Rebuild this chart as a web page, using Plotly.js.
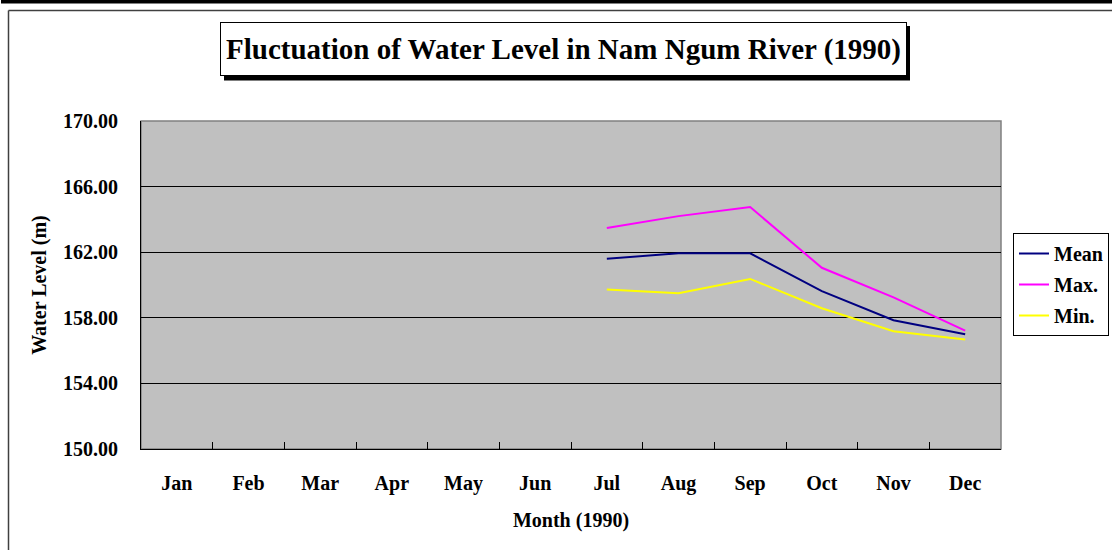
<!DOCTYPE html>
<html>
<head>
<meta charset="utf-8">
<script src="https://cdn.plot.ly/plotly-3.0.1.min.js"></script>
<style>
html,body{margin:0;padding:0;background:#fff;}
#chart{width:1112px;height:550px;}
</style>
</head>
<body>
<div id="chart"></div>
<script>
var months = ["Jan","Feb","Mar","Apr","May","Jun","Jul","Aug","Sep","Oct","Nov","Dec"];
var meanLevel = [null,null,null,null,null,null,161.60,161.93,161.93,159.63,157.85,157.00];
var maxLevel  = [null,null,null,null,null,null,163.47,164.20,164.75,161.05,159.25,157.22];
var minLevel  = [null,null,null,null,null,null,159.73,159.50,160.37,158.58,157.18,156.68];
var seriesNames = ["Mean","Max.","Min."];
var chartTitle = "Fluctuation of Water Level in Nam Ngum River (1990)";
var xTitle = "Month (1990)";
var yTitle = "Water Level (m)";

var W = 1112, H = 550;
var L = 141, R = 1001, T = 121, B = 449;
function px(x){ return (x - L) / (R - L); }
function py(y){ return (B - y) / (B - T); }

var FONT = "Liberation Serif, Times New Roman, serif";

var colors = ["#000080","#ff00ff","#ffff00"];
var data = [meanLevel, maxLevel, minLevel].map(function(v, i){
  return {
    x: months, y: v, type: "scatter", mode: "lines",
    name: seriesNames[i], legendgroup: "g" + i,
    line: {color: colors[i], width: 2},
    connectgaps: false, hoverinfo: "x+y+name"
  };
});

var layout = {
  width: W, height: H,
  margin: {l: L, r: W - R, t: T, b: H - B, autoexpand: false, pad: 0},
  paper_bgcolor: "#ffffff",
  plot_bgcolor: "#c0c0c0",
  font: {family: FONT, size: 20, color: "#000", weight: 700},
  showlegend: true,
  legend: {
    x: px(1013), y: py(233), xanchor: "left", yanchor: "top",
    bgcolor: "#ffffff", bordercolor: "#000", borderwidth: 1,
    font: {family: FONT, size: 20, color: "#000", weight: 700},
    tracegroupgap: 2, itemwidth: 30, entrywidth: 112, entrywidthmode: "pixels"
  },
  xaxis: {
    type: "category", categoryorder: "array", categoryarray: months,
    range: [-0.5, 11.5], fixedrange: true,
    showgrid: false, zeroline: false,
    showline: true, linecolor: "#000", linewidth: 1,
    ticks: "inside", tickson: "boundaries", ticklen: 7, tickcolor: "#000", tickwidth: 1,
    ticklabelstandoff: 16,
    tickfont: {family: FONT, size: 20, color: "#000", weight: 700},
    title: {text: xTitle, standoff: 18, font: {family: FONT, size: 20, color: "#000", weight: 700}},
    automargin: false
  },
  yaxis: {
    range: [150, 170], dtick: 4, tick0: 150, tickformat: ".2f", fixedrange: true,
    showgrid: true, gridcolor: "#000", gridwidth: 1, zeroline: false,
    showline: true, linecolor: "#000", linewidth: 1,
    ticks: "", ticklabelstandoff: 18,
    tickfont: {family: FONT, size: 20, color: "#000", weight: 700},
    title: {text: yTitle, standoff: 11, font: {family: FONT, size: 20, color: "#000", weight: 700}},
    automargin: false
  },
  shapes: [
    {type: "rect", xref: "paper", yref: "paper", x0: px(1), x1: px(1112), y0: py(0), y1: py(3.5),
     fillcolor: "#000", line: {width: 0}, layer: "above"},
    {type: "line", xref: "paper", yref: "paper", x0: px(8.5), x1: px(1112), y0: py(10.5), y1: py(10.5),
     line: {color: "#404040", width: 1.5}, layer: "above"},
    {type: "line", xref: "paper", yref: "paper", x0: px(8.5), x1: px(8.5), y0: py(10.5), y1: py(550),
     line: {color: "#404040", width: 1.5}, layer: "above"},
    {type: "rect", xref: "paper", yref: "paper", x0: 0, x1: 1, y0: 0, y1: 1,
     line: {color: "#808080", width: 1.5}, layer: "below"},
    {type: "rect", xref: "paper", yref: "paper", x0: px(224), x1: px(910), y0: py(26), y1: py(80.5),
     fillcolor: "#000", line: {width: 0}, layer: "above"}
  ],
  annotations: [
    {text: chartTitle, xref: "paper", yref: "paper", x: px(563), y: py(49.3),
     xanchor: "center", yanchor: "middle", showarrow: false,
     font: {family: FONT, size: 29, color: "#000", weight: 700},
     bgcolor: "#ffffff", bordercolor: "#000", borderwidth: 1, borderpad: 4,
     width: 677, height: 44}
  ]
};

Plotly.newPlot("chart", data, layout, {displayModeBar: false, staticPlot: true});
</script>
</body>
</html>
